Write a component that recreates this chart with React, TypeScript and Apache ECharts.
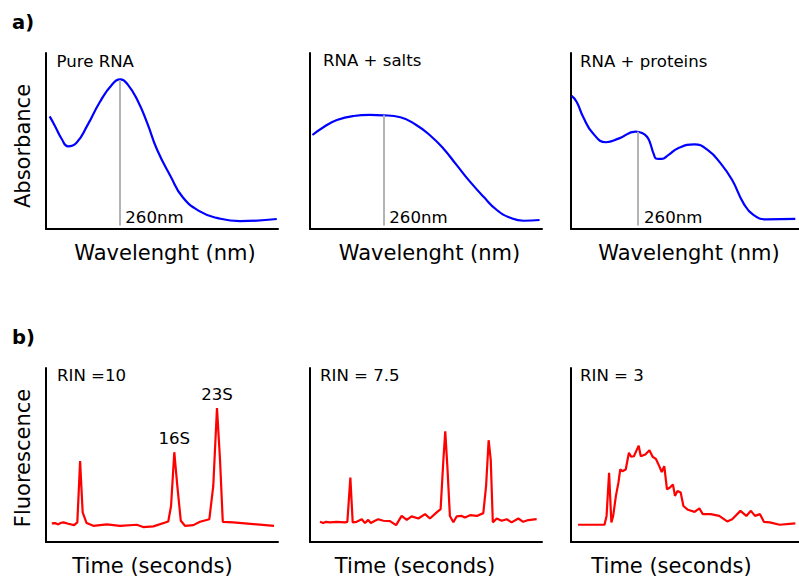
import React, { useEffect, useRef } from "react";
import * as echarts from "echarts";

const FONT = "DejaVu Sans";

// ---- a) Absorbance spectra ----
const pureRnaWavelength = [203, 207, 213, 218, 225, 234, 244, 254, 261, 267, 275, 283, 291, 302, 312, 326, 340, 359, 389];
const pureRnaAbsorbance = [0.64, 0.59, 0.51, 0.47, 0.49, 0.59, 0.72, 0.82, 0.85, 0.82, 0.73, 0.6, 0.45, 0.3, 0.18, 0.1, 0.063, 0.045, 0.057];

const saltsWavelength = [202, 211, 222, 235.5, 249, 260, 274, 287, 298, 309, 320, 331, 342, 353, 364, 375, 388];
const saltsAbsorbance = [0.534, 0.578, 0.619, 0.642, 0.648, 0.646, 0.635, 0.591, 0.534, 0.459, 0.364, 0.269, 0.184, 0.108, 0.064, 0.047, 0.051];

const proteinsWavelength = [200.6, 205, 210.8, 219.6, 231.4, 243.1, 257.8, 263.6, 268, 270.9, 273.8, 276.7, 281.1, 287, 295.8, 310.5, 322.2, 333.9, 344.2, 354.4, 363.2, 374.9, 400.7];
const proteinsAbsorbance = [0.756, 0.723, 0.638, 0.544, 0.493, 0.515, 0.553, 0.545, 0.524, 0.487, 0.43, 0.399, 0.398, 0.42, 0.459, 0.481, 0.449, 0.373, 0.278, 0.146, 0.08, 0.055, 0.057];

const markerWavelength = 260;
const markerTops = [0.847, 0.646, 0.553];
const markerLabel = "260nm";
const absorbanceTitles = ["Pure RNA", "RNA + salts", "RNA + proteins"];
const wavelengthMax = [390, 390, 404];

// ---- b) Fluorescence traces ----
const rin10Time = [2.5, 3.9, 5.3, 6.3, 7.5, 9.6, 12.1, 13.5, 14.7, 15.8, 17.5, 20.4, 26.2, 31.9, 39.1, 41.9, 46.3, 52.7, 53.9, 55.3, 56.6, 58.1, 59.9, 63.5, 66.4, 70.4, 72.1, 73.7, 75.0, 76.2, 80.7, 89.4, 98.3];
const rin10Fluor = [0.107, 0.109, 0.101, 0.109, 0.113, 0.105, 0.097, 0.113, 0.465, 0.17, 0.109, 0.093, 0.101, 0.093, 0.099, 0.086, 0.09, 0.118, 0.207, 0.516, 0.322, 0.122, 0.093, 0.097, 0.116, 0.131, 0.322, 0.77, 0.474, 0.116, 0.113, 0.103, 0.093];

const rin75Time = [4.3, 5.7, 6.9, 8.6, 11.5, 15.1, 16.1, 17.4, 18.4, 20.1, 22.3, 23.7, 25.1, 26.2, 28.0, 29.4, 31.6, 34.5, 37.1, 39.5, 41.7, 43.8, 46.7, 49.6, 51.7, 54.6, 56.3, 57.5, 58.3, 59.2, 60.3, 61.8, 63.2, 65.4, 66.8, 69.0, 71.9, 74.7, 75.9, 77.0, 77.9, 78.8, 80.5, 82.6, 84.8, 86.9, 89.8, 91.9, 94.1, 97.7];
const rin75Fluor = [0.116, 0.109, 0.116, 0.113, 0.116, 0.113, 0.116, 0.37, 0.113, 0.116, 0.131, 0.109, 0.127, 0.109, 0.122, 0.131, 0.122, 0.12, 0.097, 0.15, 0.127, 0.147, 0.135, 0.16, 0.135, 0.17, 0.189, 0.474, 0.636, 0.436, 0.15, 0.113, 0.147, 0.15, 0.141, 0.154, 0.15, 0.166, 0.322, 0.585, 0.474, 0.113, 0.135, 0.122, 0.131, 0.113, 0.135, 0.116, 0.126, 0.131];

const rin3Time = [3.1, 14.7, 15.6, 16.7, 17.7, 18.5, 19.7, 20.8, 21.6, 22.5, 24.0, 25.4, 26.4, 27.6, 28.6, 29.7, 30.6, 32.6, 34.4, 35.8, 37.2, 38.7, 39.8, 40.9, 42.1, 43.4, 44.7, 45.6, 46.7, 48.1, 49.3, 51.3, 54.2, 56.3, 57.8, 61.3, 65.0, 68.5, 70.7, 74.3, 76.9, 78.9, 80.7, 82.9, 84.6, 87.2, 91.5, 98.4];
const rin3Fluor = [0.099, 0.099, 0.15, 0.398, 0.113, 0.15, 0.265, 0.341, 0.417, 0.407, 0.417, 0.513, 0.49, 0.493, 0.522, 0.554, 0.493, 0.503, 0.527, 0.49, 0.478, 0.436, 0.402, 0.436, 0.303, 0.313, 0.331, 0.265, 0.293, 0.284, 0.207, 0.185, 0.173, 0.193, 0.16, 0.16, 0.15, 0.118, 0.131, 0.179, 0.15, 0.179, 0.15, 0.16, 0.116, 0.113, 0.099, 0.107];

const fluorTitles = ["RIN =10", "RIN = 7.5", "RIN = 3"];
const peakNames = ["16S", "23S"];
const peakTimes = [55.3, 73.7];
const peakValues = [0.516, 0.77];

const zip = (xs: number[], ys: number[]) => xs.map((x, i) => [x, ys[i]]);

const gridLefts = [46, 310, 571];
const xNamePad = [
  [0, 0, 0, 6], [0, 0, 0, 7], [0, 0, 0, 8],
  [0, 19, 0, 0], [0, 22, 0, 0], [0, 27, 0, 0],
];
const titlePos = [
  [56.5, 61], [323, 60.5], [580, 61],
  [57, 375], [320, 375.5], [580, 375.5],
];
const SMALL = 16.6;

function buildOption() {
  const grids: any[] = [];
  const xAxes: any[] = [];
  const yAxes: any[] = [];
  const series: any[] = [];
  const axisLine = { show: true, onZero: false, lineStyle: { color: "#000", width: 2 } };

  const absData = [
    zip(pureRnaWavelength, pureRnaAbsorbance),
    zip(saltsWavelength, saltsAbsorbance),
    zip(proteinsWavelength, proteinsAbsorbance),
  ];
  const fluData = [
    zip(rin10Time, rin10Fluor),
    zip(rin75Time, rin75Fluor),
    zip(rin3Time, rin3Fluor),
  ];

  for (let i = 0; i < 6; i++) {
    const isA = i < 3;
    grids.push({ left: gridLefts[i % 3], top: isA ? 53 : 368, width: 232, height: isA ? 176 : 175 });
    xAxes.push({
      gridIndex: i,
      type: "value",
      min: isA ? 200 : 0,
      max: isA ? wavelengthMax[i] : 100,
      axisLine,
      axisTick: { show: false },
      axisLabel: { show: false },
      splitLine: { show: false },
      name: isA ? "Wavelenght (nm)" : "Time (seconds)",
      nameLocation: "middle",
      nameGap: 13,
      nameTextStyle: { fontSize: 21, fontFamily: FONT, color: "#000", padding: xNamePad[i] },
    });
    const yName = i === 0 ? "Absorbance" : i === 3 ? "Fluorescence" : "";
    yAxes.push({
      gridIndex: i,
      type: "value",
      min: 0,
      max: 1,
      axisLine,
      axisTick: { show: false },
      axisLabel: { show: false },
      splitLine: { show: false },
      name: yName,
      nameLocation: "middle",
      nameGap: 13,
      nameTextStyle: { fontSize: 21, fontFamily: FONT, color: "#000", padding: i === 0 ? [0, 10, 0, 0] : [0, 6, 0, 0] },
    });
  }

  absData.forEach((d, i) => {
    series.push({
      type: "line",
      xAxisIndex: i,
      yAxisIndex: i,
      data: d,
      smooth: 0.5,
      showSymbol: false,
      lineStyle: { color: "#0000ff", width: 2.2 },
      z: 3,
      markLine: {
        silent: true,
        symbol: ["none", "none"],
        label: { show: false },
        lineStyle: { color: "#b3b3b3", width: 2, type: "solid" },
        data: [[{ coord: [markerWavelength, 0.02] }, { coord: [markerWavelength, markerTops[i]] }]],
      },
      markPoint: {
        silent: true,
        symbol: "circle",
        symbolSize: 0,
        itemStyle: { color: "transparent" },
        label: {
          show: true,
          position: "right",
          distance: 6,
          formatter: markerLabel,
          color: "#000",
          fontSize: SMALL,
          fontFamily: FONT,
        },
        data: [{ coord: [markerWavelength, 0.068] }],
      },
    });
  });

  fluData.forEach((d, i) => {
    const s: any = {
      type: "line",
      xAxisIndex: i + 3,
      yAxisIndex: i + 3,
      data: d,
      smooth: false,
      showSymbol: false,
      lineStyle: { color: "#ff0000", width: 2.2 },
    };
    if (i === 0) {
      s.markPoint = {
        silent: true,
        symbol: "circle",
        symbolSize: 0,
        itemStyle: { color: "transparent" },
        label: { show: true, position: "top", distance: 5, color: "#000", fontSize: SMALL, fontFamily: FONT, formatter: (p: any) => p.name },
        data: peakNames.map((n, k) => ({ name: n, coord: [peakTimes[k], peakValues[k]] })),
      };
    }
    series.push(s);
  });

  const titles = [...absorbanceTitles, ...fluorTitles];
  const graphic: any[] = titles.map((t, i) => ({
    type: "text",
    x: titlePos[i][0],
    y: titlePos[i][1],
    silent: true,
    style: { text: t, fontSize: SMALL, fontFamily: FONT, fill: "#000", align: "left", verticalAlign: "middle" },
  }));
  graphic.push({
    type: "text", x: 12, y: 22.5, silent: true,
    style: { text: "a)", fontSize: 19.5, fontWeight: "bold", fontFamily: FONT, fill: "#000", align: "left", verticalAlign: "middle" },
  });
  graphic.push({
    type: "text", x: 12, y: 337.5, silent: true,
    style: { text: "b)", fontSize: 19.5, fontWeight: "bold", fontFamily: FONT, fill: "#000", align: "left", verticalAlign: "middle" },
  });

  return {
    animation: false,
    backgroundColor: "#fff",
    grid: grids,
    xAxis: xAxes,
    yAxis: yAxes,
    series,
    graphic,
  };
}

export default function App() {
  const ref = useRef<HTMLDivElement>(null);
  useEffect(() => {
    const chart = echarts.init(ref.current!, null, { renderer: "svg" });
    chart.setOption(buildOption());
    return () => chart.dispose();
  }, []);
  return (
    <div
      ref={ref}
      style={{ position: "fixed", left: 0, top: 0, width: 799, height: 577, background: "#fff" }}
    />
  );
}
